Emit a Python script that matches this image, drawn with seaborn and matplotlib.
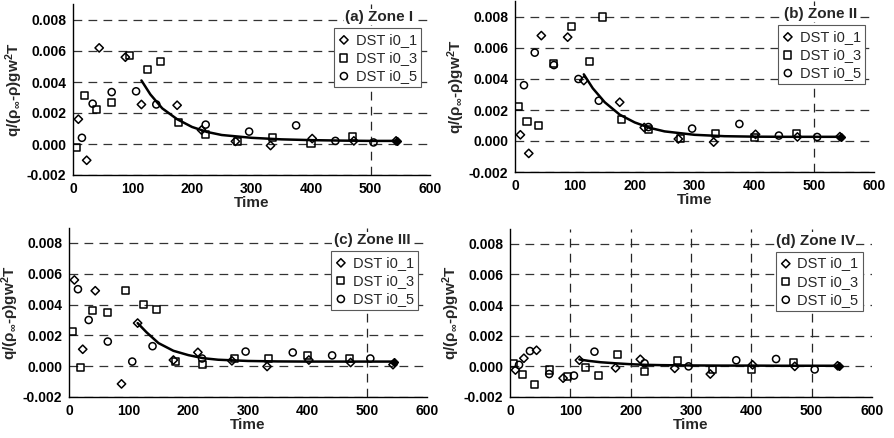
import numpy as np
import pandas as pd
import matplotlib
matplotlib.use("Agg")
import matplotlib.pyplot as plt
import seaborn as sns

# ---------------- data ----------------
t_i01 = [9, 23, 44, 88, 115, 175, 216, 273, 332, 402, 472, 543]
t_i03 = [5, 20, 40, 65, 95, 125, 147, 178, 223, 277, 335, 400, 470]
t_i05 = [15, 33, 65, 106, 140, 223, 296, 375, 441, 505]
t_fit = [115, 130, 150, 175, 200, 225, 250, 300, 350, 400, 450, 500, 545]

# Zone I
a_i01 = [0.0016, -0.00105, 0.0062, 0.0056, 0.00255, 0.0025, 0.0009, 0.00017, -0.0001, 0.00035, 0.0002, 0.0002]
a_i03 = [-0.00025, 0.0031, 0.0022, 0.0027, 0.0057, 0.0048, 0.0053, 0.0014, 0.0006, 0.00017, 0.0004, 0.00005, 0.0005]
a_i05 = [0.0004, 0.0026, 0.00335, 0.0034, 0.00255, 0.00125, 0.0008, 0.0012, 0.0002, 0.0001]
a_fit = [0.0041, 0.0032, 0.0023, 0.0016, 0.0011, 0.00078, 0.00058, 0.0004, 0.0003, 0.00025, 0.00022, 0.0002, 0.0002]

# Zone II
b_i01 = [0.0004, -0.0008, 0.0068, 0.0067, 0.0039, 0.0025, 0.00087, 0.00013, -0.00007, 0.00043, 0.00026, 0.00028]
b_i03 = [0.0022, 0.00126, 0.001, 0.005, 0.0074, 0.0051, 0.008, 0.0014, 0.00076, 0.00015, 0.00048, 0.0002, 0.00048]
b_i05 = [0.0036, 0.0057, 0.0049, 0.004, 0.0026, 0.0009, 0.0008, 0.0011, 0.00035, 0.00026]
b_fit = [0.0043, 0.0034, 0.0025, 0.0017, 0.0012, 0.00085, 0.00062, 0.0004, 0.00031, 0.00028, 0.00027, 0.00027, 0.00027]

# Zone III
c_i01 = [0.0056, 0.0011, 0.0049, -0.00115, 0.0028, 0.0004, 0.0009, 0.00035, -0.00002, 0.0004, 0.00024, 0.0001]
c_i03 = [0.00225, -0.00006, 0.0036, 0.0035, 0.0049, 0.004, 0.0037, 0.0003, 0.00013, 0.0005, 0.00048, 0.0007, 0.0005]
c_i05 = [0.005, 0.003, 0.0016, 0.0003, 0.0013, 0.0005, 0.00095, 0.00089, 0.0007, 0.0005]
c_fit = [0.0028, 0.0022, 0.0015, 0.001, 0.00072, 0.00052, 0.00042, 0.00034, 0.00031, 0.0003, 0.0003, 0.0003, 0.0003]

# Zone IV
d_i01 = [-0.00024, 0.00053, 0.00105, -0.00077, 0.0004, -0.0001, 0.00046, -0.00013, -0.0005, 0.0001, 0.0, 0.00004]
d_i03 = [0.0002, -0.00055, -0.00116, -0.00024, -0.00064, -0.0001, -0.00057, 0.0008, -0.00035, 0.0004, -0.00018, -0.0002, 0.00026]
d_i05 = [0.0001, 0.001, -0.0005, -0.0006, 0.00096, 0.0002, 0.0, 0.0004, 0.00048, -0.0002]
d_fit = [0.00045, 0.00036, 0.00027, 0.0002, 0.00014, 0.0001, 0.00008, 0.00006, 0.00005, 0.00005, 0.00004, 0.00004, 0.00004]

panel_titles = ["(a) Zone I", "(b) Zone II", "(c) Zone III", "(d) Zone IV"]
series_names = ["DST i0_1", "DST i0_3", "DST i0_5"]
x_ticks = [0, 100, 200, 300, 400, 500, 600]
y_ticks = [-0.002, 0.000, 0.002, 0.004, 0.006, 0.008]

# ---------------- style ----------------
sns.set_style("white")
plt.rcParams["font.family"] = ["Liberation Sans", "DejaVu Sans"]
plt.rcParams["mathtext.fontset"] = "custom"
plt.rcParams["mathtext.rm"] = "Liberation Sans:bold"
plt.rcParams["mathtext.it"] = "Liberation Sans:bold"
plt.rcParams["mathtext.bf"] = "Liberation Sans:bold"
plt.rcParams["mathtext.default"] = "regular"

fig = plt.figure(figsize=(8.94, 4.38), dpi=100)
W, H = 894.0, 438.0
# axes boxes in pixels: (x0, x600, y_top, y_bottom)
boxes = [(73, 430, 4.5, 175), (515, 874, 1.5, 172), (69, 427, 227.6, 397), (510, 872, 228.5, 397)]
vlines_sets = [[500], [500], [500], [100, 200, 300, 400, 500]]

panels = [
    (a_i01, a_i03, a_i05, a_fit),
    (b_i01, b_i03, b_i05, b_fit),
    (c_i01, c_i03, c_i05, c_fit),
    (d_i01, d_i03, d_i05, d_fit),
]
markers = ["D", "s", "o"]
msizes = [18, 26, 26]
dash = (0, (7, 5))

for k, (box, (s1, s3, s5, fit)) in enumerate(zip(boxes, panels)):
    x0, x1, yt, yb = box
    ax = fig.add_axes([x0 / W, 1 - yb / H, (x1 - x0) / W, (yb - yt) / H])
    ax.set_xlim(0, 600)
    ax.set_ylim(-0.002, 0.009)

    for yv in y_ticks:
        ax.axhline(yv, color="0.2", lw=0.9, ls=dash, zorder=0)
    for xv in vlines_sets[k]:
        ax.axvline(xv, color="0.15", lw=0.9, ls=dash, zorder=0)

    for name, tt, vv, mk, ms in zip(series_names, [t_i01, t_i03, t_i05], [s1, s3, s5], markers, msizes):
        df = pd.DataFrame({"Time": tt, "q": vv})
        sns.scatterplot(data=df, x="Time", y="q", ax=ax, marker=mk, s=ms,
                        facecolor="none", edgecolor="black", linewidth=1.1,
                        label=name, zorder=3)

    dff = pd.DataFrame({"Time": t_fit, "q": fit})
    sns.lineplot(data=dff, x="Time", y="q", ax=ax, color="black", lw=1.8, zorder=4, legend=False)
    ax.plot(t_fit[-1], fit[-1], marker="D", ms=4, color="black", zorder=5)

    ax.set_xticks(x_ticks)
    ax.set_yticks(y_ticks)
    ax.set_xticklabels([str(v) for v in x_ticks], fontsize=10, fontweight="bold")
    ax.set_yticklabels([f"{v:.3f}" for v in y_ticks], fontsize=10, fontweight="bold")
    ax.tick_params(axis="both", direction="out", length=3, width=0.9, pad=2, colors="black")
    for side in ["top", "right"]:
        ax.spines[side].set_visible(False)
    for side in ["left", "bottom"]:
        ax.spines[side].set_color("black")
        ax.spines[side].set_linewidth(1.0)

    ax.set_xlabel("Time", fontsize=11, fontweight="bold", labelpad=0)
    ax.set_ylabel(r"q/($\rho_{\infty}$-$\rho$)gw$^{2}$T", fontsize=11, fontweight="bold", labelpad=1)

    ax.text(572, 0.0082, panel_titles[k], ha="right", va="center", fontsize=11,
            fontweight="bold", zorder=6,
            bbox=dict(facecolor="white", edgecolor="none", pad=1.0))

    leg = ax.legend(loc="upper right", bbox_to_anchor=(0.975, 0.86), fontsize=10.5,
                    frameon=True, fancybox=False, framealpha=1, edgecolor="0.35",
                    borderpad=0.3, labelspacing=0.28, handlelength=0.8, handletextpad=0.4,
                    borderaxespad=0)
    leg.get_frame().set_linewidth(0.8)
    leg.set_zorder(7)

fig.savefig("out.png", dpi=100)
